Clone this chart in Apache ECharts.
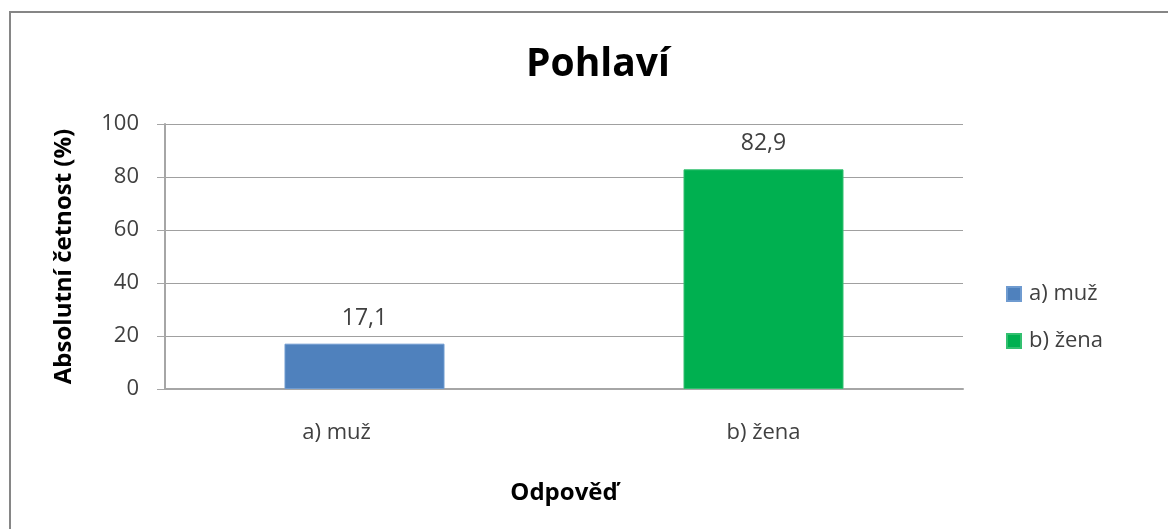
<!DOCTYPE html>
<html>
<head>
<meta charset="utf-8">
<script src="https://cdn.jsdelivr.net/npm/echarts@6/dist/echarts.min.js"></script>
<style>
  html, body { margin: 0; padding: 0; background: #fff; }
  #chart { width: 1168px; height: 529px; }
</style>
</head>
<body>
<div id="chart"></div>
<script>
// kategorie a hodnoty (v %)
var categories = ['a) muž', 'b) žena'];
var valuesMuz = [17.1, null];
var valuesZena = [null, 82.9];
var yTicks = [0, 20, 40, 60, 80, 100];

var chart = echarts.init(document.getElementById('chart'));
var font = '"Open Sans", Lato, sans-serif';

// popisek hodnoty s desetinnou čárkou
function fmt(p) {
  return String(p.value).replace('.', ',');
}

var option = {
  backgroundColor: '#ffffff',
  textStyle: { fontFamily: font },
  animation: false,
  title: {
    text: 'Pohlaví',
    left: 593,
    top: 40,
    textAlign: 'center',
    textStyle: { fontSize: 39, fontWeight: 'bold', color: '#000', fontFamily: font }
  },
  legend: {
    orient: 'vertical',
    left: 1001,
    top: 278,
    itemWidth: 14,
    itemHeight: 14,
    itemGap: 25,
    icon: 'rect',
    textStyle: { fontSize: 22, lineHeight: 22, color: '#404040', fontFamily: font, padding: [0, 0, 0, 3] },
    data: categories
  },
  grid: { left: 165, right: 205, top: 124, bottom: 140 },
  xAxis: {
    type: 'category',
    data: categories,
    name: 'Odpověď',
    nameLocation: 'middle',
    nameGap: 92,
    nameTextStyle: { fontSize: 24, fontWeight: 'bold', color: '#000' },
    axisLine: { lineStyle: { color: '#a6a6a6', width: 2 } },
    axisTick: { show: false },
    axisLabel: {
      fontSize: 22, color: '#404040', margin: 33,
      formatter: function (v, i) { return i === 0 ? '{a|' + v + '}' : v; },
      rich: { a: { fontSize: 22, color: '#404040', padding: [0, 56, 0, 0] } }
    }
  },
  yAxis: {
    type: 'value',
    min: 0,
    max: 100,
    interval: 20,
    name: 'Absolutní četnost (%)',
    nameLocation: 'middle',
    nameGap: 89,
    nameTextStyle: { fontSize: 24, fontWeight: 'bold', color: '#000' },
    axisLine: { show: true, lineStyle: { color: '#a6a6a6', width: 2 } },
    axisTick: { show: true, length: 8, lineStyle: { color: '#a6a6a6' } },
    axisLabel: {
      fontSize: 22, color: '#404040', margin: 26,
      formatter: function (v) { return yTicks.indexOf(v) >= 0 ? String(v) : ''; }
    },
    splitLine: { lineStyle: { color: '#a0a0a0', width: 1 } }
  },
  series: [
    {
      name: categories[0],
      type: 'bar',
      stack: 'x',
      barWidth: 160,
      data: valuesMuz,
      itemStyle: { color: '#4f81bd', borderColor: '#6f9bd0', borderWidth: 1 },
      label: { show: true, position: 'top', distance: 14, fontSize: 23, color: '#404040', formatter: fmt }
    },
    {
      name: categories[1],
      type: 'bar',
      stack: 'x',
      barWidth: 160,
      data: valuesZena,
      itemStyle: { color: '#00b050', borderColor: '#33c070', borderWidth: 1 },
      label: { show: true, position: 'top', distance: 14, fontSize: 23, color: '#404040', formatter: fmt }
    }
  ],
  graphic: [{
    type: 'rect',
    shape: { x: 10, y: 12, width: 1200, height: 560 },
    style: { fill: 'none', stroke: '#868686', lineWidth: 2 },
    silent: true
  }]
};

chart.setOption(option);
</script>
</body>
</html>
